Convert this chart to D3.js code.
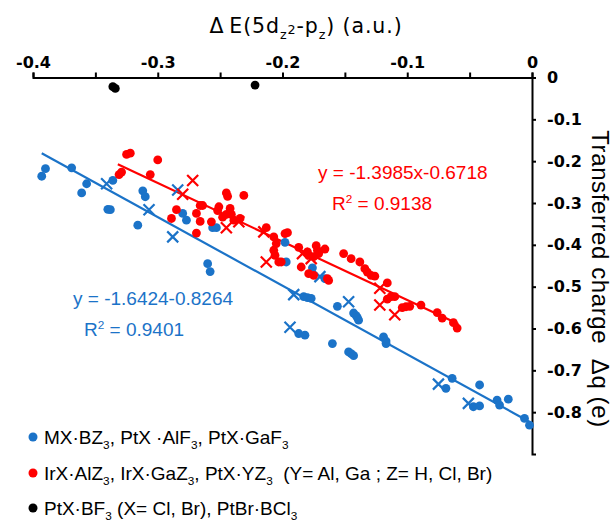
<!DOCTYPE html>
<html><head><meta charset="utf-8">
<script src="https://cdn.jsdelivr.net/npm/d3@7"></script>
<style>body{margin:0;background:#fff}svg{display:block}text{white-space:pre}</style>
</head><body><svg id="c" width="615" height="523"></svg>
<script>
// ---- data ----
const blueDots = [
[-0.390,-0.218],[-0.393,-0.236],[-0.369,-0.216],[-0.357,-0.254],[-0.361,-0.276],[-0.336,-0.246],
[-0.312,-0.271],[-0.310,-0.285],[-0.340,-0.315],[-0.338,-0.316],[-0.316,-0.353],[-0.280,-0.325],
[-0.277,-0.341],[-0.260,-0.445],[-0.258,-0.464],[-0.256,-0.359],[-0.253,-0.359],[-0.198,-0.394],
[-0.197,-0.441],[-0.176,-0.455],[-0.166,-0.481],[-0.183,-0.524],[-0.180,-0.526],[-0.177,-0.528],
[-0.156,-0.547],[-0.143,-0.563],[-0.141,-0.569],[-0.140,-0.574],[-0.139,-0.580],[-0.187,-0.612],
[-0.182,-0.616],[-0.160,-0.636],[-0.147,-0.656],[-0.145,-0.660],[-0.143,-0.665],[-0.119,-0.620],
[-0.117,-0.630],[-0.117,-0.636],[-0.069,-0.743],[-0.064,-0.719],[-0.042,-0.735],[-0.047,-0.787],
[-0.042,-0.785],[-0.028,-0.771],[-0.026,-0.783],[-0.019,-0.769],[-0.006,-0.815],[-0.002,-0.831]
];
const blueCrosses = [
[-0.341,-0.254],[-0.307,-0.316],[-0.288,-0.381],[-0.284,-0.269],[-0.191,-0.519],[-0.170,-0.476],
[-0.147,-0.536],[-0.194,-0.597],[-0.075,-0.733],[-0.051,-0.779]
];
const redDots = [
[-0.325,-0.184],[-0.322,-0.181],[-0.300,-0.197],[-0.331,-0.232],[-0.329,-0.226],[-0.306,-0.232],
[-0.285,-0.316],[-0.289,-0.337],[-0.269,-0.325],[-0.266,-0.344],[-0.266,-0.306],[-0.264,-0.306],
[-0.257,-0.345],[-0.269,-0.372],[-0.252,-0.318],[-0.251,-0.309],[-0.245,-0.276],[-0.244,-0.284],
[-0.231,-0.282],[-0.248,-0.334],[-0.245,-0.327],[-0.242,-0.313],[-0.241,-0.327],[-0.239,-0.341],
[-0.234,-0.337],[-0.213,-0.359],[-0.207,-0.381],[-0.205,-0.397],[-0.198,-0.373],[-0.196,-0.371],
[-0.207,-0.413],[-0.206,-0.425],[-0.203,-0.441],[-0.201,-0.441],[-0.187,-0.406],[-0.180,-0.417],
[-0.179,-0.425],[-0.173,-0.402],[-0.172,-0.413],[-0.175,-0.428],[-0.171,-0.421],[-0.166,-0.410],
[-0.185,-0.453],[-0.179,-0.469],[-0.175,-0.473],[-0.164,-0.481],[-0.163,-0.485],[-0.151,-0.421],
[-0.145,-0.433],[-0.138,-0.441],[-0.134,-0.457],[-0.132,-0.465],[-0.129,-0.473],[-0.126,-0.475],
[-0.116,-0.491],[-0.116,-0.530],[-0.113,-0.524],[-0.110,-0.524],[-0.104,-0.550],[-0.101,-0.548],
[-0.098,-0.547],[-0.089,-0.544],[-0.076,-0.562],[-0.072,-0.575],[-0.063,-0.586],[-0.060,-0.599]
];
const redCrosses = [
[-0.272,-0.246],[-0.280,-0.279],[-0.245,-0.359],[-0.235,-0.345],[-0.215,-0.369],[-0.213,-0.441],
[-0.184,-0.421],[-0.177,-0.433],[-0.122,-0.504],[-0.122,-0.544],[-0.110,-0.567]
];
const blackDots = [[-0.336,-0.022],[-0.334,-0.026],[-0.222,-0.018]];

const blueFit = {slope:-1.6424, intercept:-0.8264, from:-0.393, to:0};
const redFit  = {slope:-1.3985, intercept:-0.6718, from:-0.332, to:-0.059};

const xTicks = [-0.4,-0.35,-0.3,-0.25,-0.2,-0.15,-0.1,-0.05,0];
const xTickLabels = ["-0.4","","-0.3","","-0.2","","-0.1","","0"];
const yTicks = [0,-0.1,-0.2,-0.3,-0.4,-0.5,-0.6,-0.7,-0.8];
const yTickLabels = ["0","-0.1","-0.2","-0.3","-0.4","-0.5","-0.6","-0.7","-0.8"];

const BLUE = "#1b73c8", RED = "#ff0000", BLACK = "#000";

// ---- chart ----
const svg = d3.select("#c");
const x = d3.scaleLinear().domain([-0.4, 0]).range([33, 532]);
const y = d3.scaleLinear().domain([0, -0.9]).range([77.5, 454]);

const gx = svg.append("g").attr("transform", `translate(0,${y(0)})`)
  .call(d3.axisTop(x).tickValues(xTicks).tickSize(5).tickSizeOuter(5).tickPadding(5)
    .tickFormat((d,i) => xTickLabels[i]));
const gy = svg.append("g").attr("transform", `translate(${x(0)},0)`)
  .call(d3.axisRight(y).tickValues(yTicks).tickSize(4).tickSizeOuter(4).tickPadding(11)
    .tickFormat((d,i) => yTickLabels[i]));
[gx, gy].forEach(g => {
  g.selectAll("path,line").attr("stroke", "#000").attr("stroke-width", 2);
  g.selectAll("text").attr("font-family", "DejaVu Sans").attr("font-weight", "bold")
   .attr("font-size", 16).attr("fill", "#000");
});

function rich(sel, parts, fs) {
  let shift = 0;
  parts.forEach(([s, mode]) => {
    let target = mode === 1 ? fs*0.3 : mode === 2 ? -fs*0.35 : mode === 3 ? fs*0.05 : 0;
    const t = sel.append("tspan").text(s).attr("dy", target - shift);
    if (mode) t.attr("font-size", fs*0.62);
    shift = target;
  });
}

[[blueFit, BLUE], [redFit, RED]].forEach(([f, c]) => {
  svg.append("line")
    .attr("x1", x(f.from)).attr("y1", y(f.slope*f.from + f.intercept))
    .attr("x2", x(f.to)).attr("y2", y(f.slope*f.to + f.intercept))
    .attr("stroke", c).attr("stroke-width", 2.2);
});

function dots(data, color) {
  svg.append("g").selectAll("circle").data(data).join("circle")
    .attr("cx", d => x(d[0])).attr("cy", d => y(d[1])).attr("r", 4.4).attr("fill", color);
}
function crosses(data, color) {
  svg.append("g").selectAll("path").data(data).join("path")
    .attr("transform", d => `translate(${x(d[0])},${y(d[1])})`)
    .attr("d", "M-5.5,-5.5L5.5,5.5M-5.5,5.5L5.5,-5.5")
    .attr("stroke", color).attr("stroke-width", 2.2).attr("fill", "none");
}
dots(blueDots, BLUE); crosses(blueCrosses, BLUE);
dots(redDots, RED); crosses(redCrosses, RED);
dots(blackDots, BLACK);

const tt = svg.append("text").attr("x", 306).attr("y", 33).attr("text-anchor", "middle")
  .attr("font-family", "DejaVu Sans").attr("font-size", 20.5).attr("letter-spacing", 0.9).attr("fill", "#000");
rich(tt, [["\u0394\u2009E(5d",0],["z",1],["2",3],["-p",0],["z",1],[") (a.u.)",0]], 20.5);

svg.append("text").attr("transform", "translate(592,279) rotate(90)").attr("text-anchor", "middle")
  .attr("font-family", "Liberation Sans").attr("font-size", 24).attr("letter-spacing", 0.6).attr("fill", "#000")
  .text("Transferred charge  \u0394q (e)");

const eqFont = 19;
function eq(xp, yp, color, parts) {
  const t = svg.append("text").attr("x", xp).attr("y", yp).attr("font-family", "Liberation Sans")
    .attr("font-size", eqFont).attr("fill", color);
  rich(t, parts, eqFont);
}
eq(318, 179, RED, [["y = -1.3985x-0.6718",0]]);
eq(332, 210, RED, [["R",0],["2",2],[" = 0.9138",0]]);
eq(73, 305, BLUE, [["y = -1.6424-0.8264",0]]);
eq(84, 336, BLUE, [["R",0],["2",2],[" = 0.9401",0]]);

const legendRows = [
  {color: BLUE, y: 437, parts: [["MX\u00b7BZ",0],["3",1],[", PtX \u00b7AlF",0],["3",1],[", PtX\u00b7GaF",0],["3",1]]},
  {color: RED, y: 473, parts: [["IrX\u00b7AlZ",0],["3",1],[", IrX\u00b7GaZ",0],["3",1],[", PtX\u00b7YZ",0],["3",1],["  (Y= Al, Ga ; Z= H, Cl, Br)",0]]},
  {color: BLACK, y: 508, parts: [["PtX\u00b7BF",0],["3",1],[" (X= Cl, Br), PtBr\u00b7BCl",0],["3",1]]}
];
const lg = svg.append("g");
legendRows.forEach(r => {
  lg.append("circle").attr("cx", 33).attr("cy", r.y).attr("r", 4.5).attr("fill", r.color);
  const t = lg.append("text").attr("x", 44).attr("y", r.y + 6.5).attr("font-family", "Liberation Sans")
    .attr("font-size", 19).attr("fill", "#000");
  rich(t, r.parts, 19);
});
</script></body></html>
